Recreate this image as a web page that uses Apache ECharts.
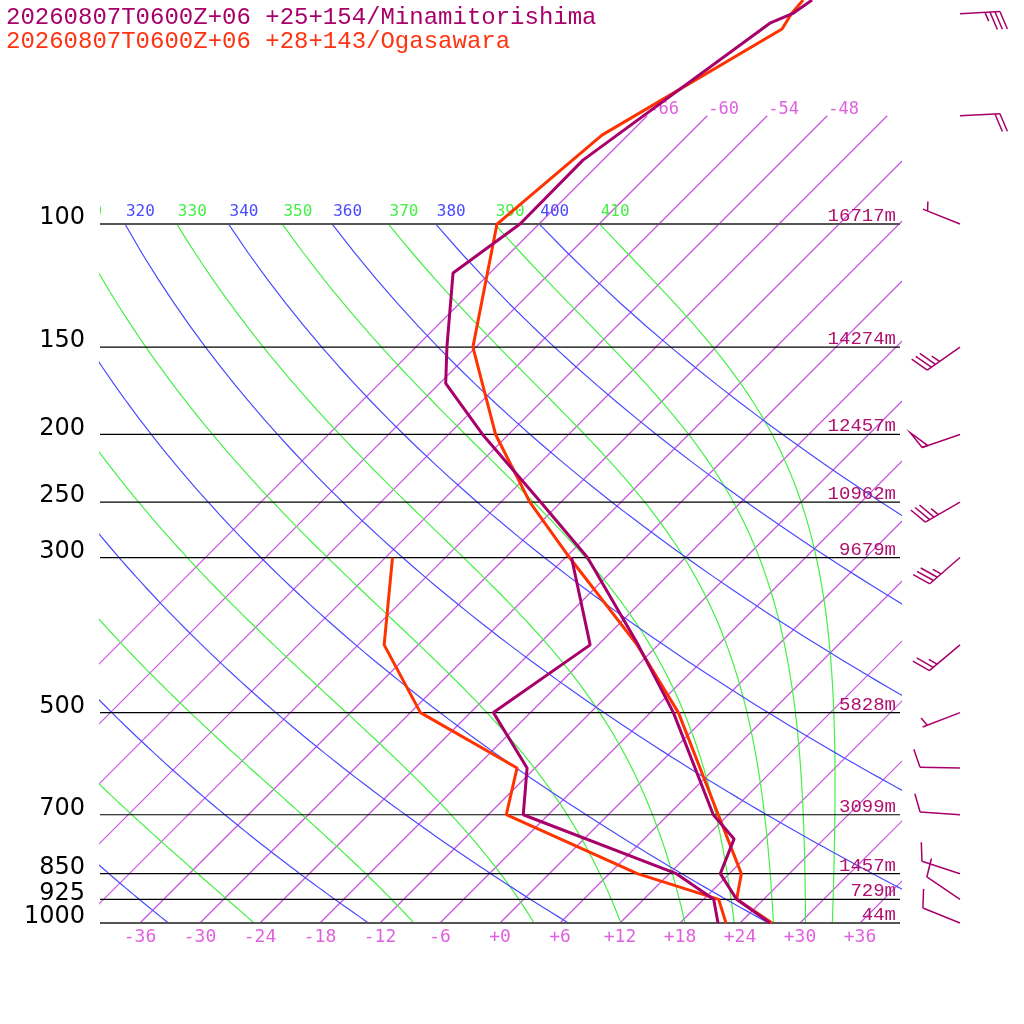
<!DOCTYPE html>
<html>
<head>
<meta charset="utf-8">
<title>Sondeo Skew-T</title>
<script src="https://cdn.jsdelivr.net/npm/echarts@6/dist/echarts.min.js"></script>
<style>
  html, body { margin: 0; padding: 0; background: #fff; }
  #grafico { width: 1024px; height: 1024px; }
</style>
</head>
<body>
<div id="grafico"></div>
<script>
// -------------------------- DATOS --------------------------
// Niveles de presion dibujados y sus alturas geopotenciales
const isobaras = [100, 150, 200, 250, 300, 500, 700, 850, 925, 1000];
const alturas = [16717, 14274, 12457, 10962, 9679, 5828, 3099, 1457, 729, 44];

// Minamitorishima: temperatura y punto de rocio
const presTempMin = [47.8, 50, 51.6, 81, 100, 117.5, 150, 169, 200, 250, 300, 400, 500, 700, 758, 850, 925, 1000];
const tempMin = [-61.1, -61.7, -63.0, -68.0, -67.9, -69.7, -62.9, -59.4, -50.6, -38.0, -27.8, -14.0, -3.7, 10.5, 15.0, 17.1, 21.3, 27.0];
const presRocioMin = [300, 400, 500, 600, 700, 850, 925, 1000];
const rocioMin = [-29.4, -18.8, -21.7, -12.8, -8.5, 12.7, 19.0, 21.8];

// Ogasawara: temperatura y punto de rocio
const presTempOga = [47.8, 50, 52.6, 74.6, 100, 150, 200, 250, 300, 400, 500, 700, 850, 925, 1000];
const tempOga = [-62.0, -61.8, -61.2, -68.6, -70.2, -60.3, -49.3, -39.1, -29.6, -14.1, -3.2, 11.0, 19.2, 21.3, 27.2];
const presRocioOga = [300, 400, 500, 600, 700, 850, 925, 1000];
const rocioOga = [-47.3, -39.4, -29.0, -13.8, -10.2, 8.8, 19.5, 22.6];

// Viento de Minamitorishima (direccion en grados, velocidad en nudos)
const presViento = [50, 70, 100, 150, 200, 250, 300, 400, 500, 600, 700, 850, 925, 1000];
const dirViento = [87, 87, 292, 235, 251, 240, 229, 230, 249, 271, 274, 288, 304, 292];
const velViento = [35, 20, 5, 35, 50, 35, 35, 25, 5, 10, 10, 10, 10, 10];

// Lineas de fondo y sus etiquetas
const isotermas = [-66, -60, -54, -48, -42, -36, -30, -24, -18, -12, -6, 0, 6, 12, 18, 24, 30, 36, 42];
const etiquetasIsotermas = [-66, -60, -54, -48];
const adiabSecas = [240, 260, 280, 300, 320, 340, 360, 380, 400];
const adiabHumedas = [250, 270, 290, 310, 330, 350, 370, 390, 410];
const etiquetasSecas = [300, 320, 340, 360, 380, 400];
const etiquetasHumedas = [310, 330, 350, 370, 390, 410];

// Colores
const C_MIN = "#a8006a";
const C_OGA = "#ff3300";
const C_ISO = "#c84fe0";
const C_ISO_TXT = "#e060e0";
const C_SECA = "#4a4aff";
const C_HUM = "#44f044";
const C_ALT = "#b0106e";

// -------------------------- TERMODINAMICA --------------------------
const KAPPA = 0.2857;
const SKEW = 699 / Math.LN10 / 10; // desplazamiento en grados por unidad de ln(p)

function xSesgado(t, p) {
  return t + SKEW * Math.log(1000 / p);
}
function presionVapor(tc) {
  return 6.112 * Math.exp(17.67 * tc / (tc + 243.5));
}
function razonMezcla(p, tk) {
  const e = presionVapor(tk - 273.15);
  return 0.622 * e / (p - e);
}
function thetaE(tk, p) {
  const r = razonMezcla(p, tk) * 1000;
  return tk * Math.pow(1000 / p, 0.2854 * (1 - 0.00028 * r)) *
    Math.exp((3.376 / tk - 0.00254) * r * (1 + 0.00081 * r));
}
function gradienteHumedo(p, tk) {
  const Rd = 287.04, Cp = 1005.7, Lv = 2.501e6, eps = 0.622;
  const r = razonMezcla(p, tk);
  return (Rd * tk + Lv * r) / (Cp + Lv * Lv * r * eps / (Rd * tk * tk)) / p;
}

function lineaIsoterma(t) {
  return [[xSesgado(t, 1000), 1000], [xSesgado(t, 70), 70]];
}
function lineaSeca(th) {
  let pts = [];
  for (let p = 1000; p >= 100; p -= 10) {
    pts.push([xSesgado(th * Math.pow(p / 1000, KAPPA) - 273.15, p), p]);
  }
  return pts;
}
function lineaHumeda(te) {
  // Buscar la temperatura a 1000 hPa con esa theta-e
  let lo = 200, hi = 330;
  for (let k = 0; k < 60; k++) {
    let mid = (lo + hi) / 2;
    if (thetaE(mid, 1000) < te) lo = mid; else hi = mid;
  }
  let T = (lo + hi) / 2;
  let pts = [[xSesgado(T - 273.15, 1000), 1000]];
  const h = -5;
  for (let p = 1000; p > 100; p += h) {
    let k1 = gradienteHumedo(p, T);
    let k2 = gradienteHumedo(p + h / 2, T + h / 2 * k1);
    let k3 = gradienteHumedo(p + h / 2, T + h / 2 * k2);
    let k4 = gradienteHumedo(p + h, T + h * k3);
    T += h / 6 * (k1 + 2 * k2 + 2 * k3 + k4);
    pts.push([xSesgado(T - 273.15, p + h), p + h]);
  }
  return pts;
}

// -------------------------- SERIES --------------------------
let series = [];

function serieFondo(datos, color) {
  return {
    type: "line", data: datos, showSymbol: false, silent: true, z: 1,
    xAxisIndex: 0, yAxisIndex: 0, animation: false,
    lineStyle: { color: color, width: 1.2 },
  };
}

isotermas.forEach(t => series.push(serieFondo(lineaIsoterma(t), C_ISO)));
let lineasHumedas = {};
adiabHumedas.forEach(te => {
  lineasHumedas[te] = lineaHumeda(te);
  series.push(serieFondo(lineasHumedas[te], C_HUM));
});
adiabSecas.forEach(th => series.push(serieFondo(lineaSeca(th), C_SECA)));

// Etiquetas de las lineas de fondo (recortadas al area del grafico)
let etiquetas = [];
etiquetasSecas.forEach(th => {
  etiquetas.push({ x: xSesgado(th * Math.pow(0.1, KAPPA) - 273.15, 100), p: 100, texto: String(th), color: C_SECA, dy: -12, size: 16 });
});
etiquetasHumedas.forEach(te => {
  let l = lineasHumedas[te];
  etiquetas.push({ x: l[l.length - 1][0], p: 100, texto: String(te), color: C_HUM, dy: -12, size: 16 });
});
etiquetasIsotermas.forEach(t => {
  etiquetas.push({ x: xSesgado(t, 70), p: 70, texto: String(t), color: C_ISO_TXT, dy: -6, size: 17 });
});

series.push({
  type: "custom", clip: true, silent: true, z: 3, animation: false,
  xAxisIndex: 0, yAxisIndex: 0,
  data: etiquetas.map(e => [e.x, e.p]),
  renderItem: function (params, api) {
    let e = etiquetas[params.dataIndex];
    let c = api.coord([e.x, e.p]);
    return {
      type: "text",
      style: {
        text: e.texto, x: c[0] + 1, y: c[1] + e.dy, fill: e.color,
        fontSize: e.size, fontFamily: "DejaVu Sans Mono",
        align: "left", verticalAlign: "middle",
      },
    };
  },
});

// Isobaras con presion a la izquierda y altura a la derecha
series.push({
  type: "custom", silent: true, z: 2, animation: false,
  xAxisIndex: 0, yAxisIndex: 0,
  data: isobaras.map(p => [0, p]),
  renderItem: function (params, api) {
    let i = params.dataIndex;
    let p = isobaras[i];
    let a = api.coord([-40, p]);
    let b = api.coord([40, p]);
    let borde = (p === 100 || p === 1000);
    return {
      type: "group",
      children: [
        { type: "line", shape: { x1: a[0], y1: a[1], x2: b[0], y2: b[1] },
          style: { stroke: borde ? "#555" : "#000", lineWidth: borde ? 2 : 1.2 } },
        { type: "text", z2: 10, style: { text: String(p), x: a[0] - 15, y: a[1] - 6, align: "right", verticalAlign: "middle",
            fill: "#000", fontSize: 24, fontFamily: "DejaVu Sans" } },
        { type: "text", z2: 10, style: { text: alturas[i] + "m", x: b[0] - 4, y: a[1] - 8, align: "right", verticalAlign: "middle",
            fill: C_ALT, fontSize: 19, fontFamily: "Liberation Mono" } },
      ],
    };
  },
});

// Sondeos
function serieSondeo(pres, temps, color, nombre) {
  return {
    type: "line", name: nombre, showSymbol: false, z: 4, animation: false,
    xAxisIndex: 0, yAxisIndex: 0,
    data: pres.map((p, i) => [xSesgado(temps[i], p), p]),
    lineStyle: { color: color, width: 3 },
  };
}
series.push(serieSondeo(presRocioOga, rocioOga, C_OGA, "Ogasawara Td"));
series.push(serieSondeo(presTempOga, tempOga, C_OGA, "Ogasawara T"));
series.push(serieSondeo(presRocioMin, rocioMin, C_MIN, "Minamitorishima Td"));
series.push(serieSondeo(presTempMin, tempMin, C_MIN, "Minamitorishima T"));

// Barbas de viento
series.push({
  type: "custom", silent: true, z: 4, animation: false,
  xAxisIndex: 1, yAxisIndex: 1,
  data: presViento.map(p => [60, p]),
  renderItem: function (params, api) {
    let i = params.dataIndex;
    let base = api.coord([60, presViento[i]]);
    let ang = dirViento[i] * Math.PI / 180;
    let dx = Math.sin(ang), dy = -Math.cos(ang);
    let largo = 40;
    let punta = [base[0] + dx * largo, base[1] + dy * largo];
    let fa = Math.atan2(dy, dx) + 70 * Math.PI / 180;
    let fx = Math.cos(fa), fy = Math.sin(fa);
    let estilo = { stroke: C_MIN, lineWidth: 1.5, fill: null };
    let hijos = [{ type: "line", shape: { x1: base[0], y1: base[1], x2: punta[0], y2: punta[1] }, style: estilo }];
    let sobre = d => [punta[0] - dx * d, punta[1] - dy * d];
    let v = velViento[i];
    let pos = 0;
    const paso = 5;
    while (v >= 50) {
      let p0 = sobre(pos), p1 = sobre(pos + 6);
      hijos.push({ type: "polygon", shape: { points: [p0, [p0[0] + fx * 19, p0[1] + fy * 19], p1] },
        style: { stroke: C_MIN, lineWidth: 1.5, fill: "none" } });
      pos += 8;
      v -= 50;
    }
    if (pos === 0 && v < 10) pos = paso;
    while (v >= 10) {
      let p0 = sobre(pos);
      hijos.push({ type: "line", shape: { x1: p0[0], y1: p0[1], x2: p0[0] + fx * 19, y2: p0[1] + fy * 19 }, style: estilo });
      pos += paso;
      v -= 10;
    }
    if (v >= 5) {
      let p0 = sobre(pos);
      hijos.push({ type: "line", shape: { x1: p0[0], y1: p0[1], x2: p0[0] + fx * 9.5, y2: p0[1] + fy * 9.5 }, style: estilo });
    }
    return { type: "group", children: hijos };
  },
});

// -------------------------- GRAFICO --------------------------
let grafico = echarts.init(document.querySelector("#grafico"));
grafico.setOption({
  animation: false,
  backgroundColor: "#fff",
  title: [
    { text: "20260807T0600Z+06 +25+154/Minamitorishima", left: 6, top: 6, padding: 0,
      textStyle: { color: C_MIN, fontSize: 24, fontWeight: "normal", fontFamily: "Liberation Mono" } },
    { text: "20260807T0600Z+06 +28+143/Ogasawara", left: 6, top: 30, padding: 0,
      textStyle: { color: "#ff3311", fontSize: 24, fontWeight: "normal", fontFamily: "Liberation Mono" } },
  ],
  grid: [
    { left: 100, right: 124, top: 0, bottom: 101 },
    { left: 900, right: 0, top: 0, bottom: 101 },
  ],
  xAxis: [
    {
      type: "value", gridIndex: 0, min: -40, max: 40, interval: 2,
      axisLine: { show: false }, axisTick: { show: false }, splitLine: { show: false },
      axisLabel: {
        color: C_ISO_TXT, fontSize: 18, fontFamily: "DejaVu Sans Mono", margin: 5,
        formatter: function (v) {
          if (Math.abs(v) >= 40 || v % 6 !== 0) return "";
          return v >= 0 ? "+" + v : String(v);
        },
      },
    },
    { type: "value", gridIndex: 1, min: 0, max: 124, show: false },
  ],
  yAxis: [
    { type: "log", gridIndex: 0, min: 47.8, max: 1000, inverse: true, show: false },
    { type: "log", gridIndex: 1, min: 47.8, max: 1000, inverse: true, show: false },
  ],
  series: series,
});
</script>
</body>
</html>
